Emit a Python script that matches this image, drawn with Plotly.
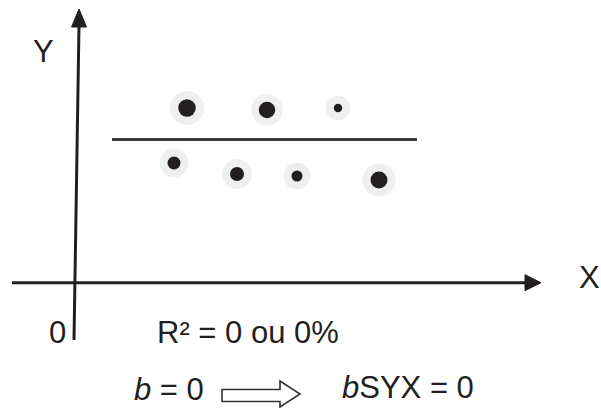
import plotly.graph_objects as go

# Observations (X, Y) scattered around a horizontal regression line
obs_x = [9.8, 11.1, 16.1, 19.1, 22.1, 26.2, 30.3]
obs_y = [12.0, 17.5, 10.9, 17.3, 10.7, 17.5, 10.3]

# Horizontal fitted line (slope b = 0)
fit_x = [3.6, 34.1]
fit_y = [14.35, 14.35]

# Marker diameters (px): pale halo and dark core for each observation
halo_size = [28.5, 34, 29.5, 31.5, 27, 24.5, 33]
core_size = [13, 17.5, 14, 16.5, 11, 8.5, 17]

INK = "#231f20"
FONT = "Liberation Sans, Arial, Helvetica, sans-serif"

fig = go.Figure()

fig.add_trace(go.Scatter(
    x=fit_x, y=fit_y, mode="lines",
    line=dict(color="#3b3b3d", width=3), hoverinfo="skip",
))
fig.add_trace(go.Scatter(
    x=obs_x, y=obs_y, mode="markers",
    marker=dict(size=halo_size, color="#eeeff1", opacity=1, line=dict(width=0)),
    hoverinfo="skip",
))
fig.add_trace(go.Scatter(
    x=obs_x, y=obs_y, mode="markers",
    marker=dict(size=core_size, color=INK, opacity=1, line=dict(width=0)),
))

shapes = [
    # Y axis (slightly tilted, hand-drawn look) and its arrowhead
    dict(type="line", xref="x", yref="y", x0=-0.2, y0=-5.7, x1=0.3, y1=25.8,
         line=dict(color=INK, width=3)),
    dict(type="path", xref="x", yref="y",
         path="M -0.45,25.6 L 1.05,25.6 L 0.3,27.4 Z",
         fillcolor=INK, line=dict(color=INK, width=1)),
    # X axis and its arrowhead
    dict(type="line", xref="x", yref="y", x0=-6.4, y0=0.03, x1=45.0, y1=0.03,
         line=dict(color=INK, width=3)),
    dict(type="path", xref="x", yref="y",
         path="M 44.9,0.83 L 44.9,-0.77 L 46.5,0.03 Z",
         fillcolor=INK, line=dict(color=INK, width=1)),
    # Hollow "implies" arrow
    dict(type="path", xref="x", yref="y",
         path=("M 14.6,-10.65 L 20.4,-10.65 L 20.4,-9.8 L 22.4,-11.1 "
               "L 20.4,-12.4 L 20.4,-11.85 L 14.6,-11.85 Z"),
         fillcolor="white", line=dict(color="#333333", width=1.6)),
]

def label(text, x, y):
    return dict(text=text, x=x, y=y, xref="x", yref="y", showarrow=False,
                xanchor="center", yanchor="middle",
                font=dict(family=FONT, size=31, color=INK))

annotations = [
    label("Y", -3.3, 23.2),
    label("X", 51.3, 0.6),
    label("0", -1.9, -4.9),
    label("R² = 0 ou 0%", 17.15, -4.9),
    label("<i>b</i> = 0", 9.3, -10.6),
    label("<i>b</i>SYX = 0", 33.15, -10.4),
]

fig.update_layout(
    width=601, height=408,
    margin=dict(l=0, r=0, t=0, b=0),
    paper_bgcolor="white", plot_bgcolor="white",
    showlegend=False,
    xaxis=dict(range=[-7.6, 52.5], visible=False, fixedrange=True),
    yaxis=dict(range=[-12.5, 28.3], visible=False, fixedrange=True),
    shapes=shapes,
    annotations=annotations,
)

fig.write_html("out.html")
